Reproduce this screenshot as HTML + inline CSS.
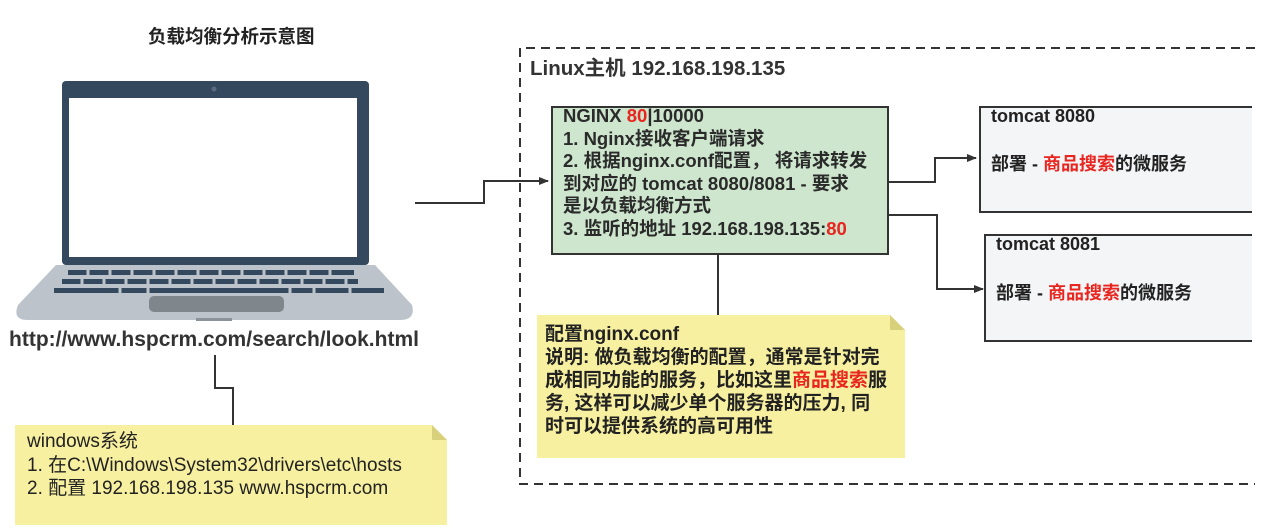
<!DOCTYPE html>
<html><head><meta charset="utf-8">
<style>
body{margin:0;width:1276px;height:532px;background:#fff;position:relative;overflow:hidden;font-family:"Liberation Sans","Noto Sans CJK SC",sans-serif;color:#222;}
.t{position:absolute;white-space:nowrap;font-weight:bold;}
.r{color:#e8261f;}
</style></head><body>
<svg width="1276" height="532" style="position:absolute;left:0;top:0">
<defs><marker id="a" markerWidth="10" markerHeight="8" refX="9" refY="4" orient="auto" markerUnits="userSpaceOnUse"><path d="M0,0 L10,4 L0,8 z" fill="#333"/></marker></defs>
<rect x="62" y="81" width="307" height="184" rx="4" fill="#34495e"/>
<rect x="69" y="98" width="288" height="159" fill="#fff"/>
<circle cx="214" cy="89" r="2.5" fill="#5a6b7c"/>
<path d="M56,265 L375,265 L412,305 Q416,320 400,320 L28,320 Q12,320 18,305 Z" fill="#bcc3cb"/>
<rect x="196" y="318" width="36" height="3" fill="#8a939c"/>
<g fill="#34495e">
<rect x="68" y="270" width="286" height="5"/>
<rect x="62" y="279" width="296" height="5"/>
<rect x="54" y="288" width="330" height="5"/>
</g>
<g stroke="#bcc3cb" stroke-width="3">
<path d="M88,268V276M110,268V276M132,268V276M154,268V276M176,268V276M198,268V276M220,268V276M242,268V276M264,268V276M286,268V276M308,268V276M330,268V276"/>
<path d="M82,278V285M104,278V285M126,278V285M148,278V285M170,278V285M192,278V285M214,278V285M236,278V285M258,278V285M280,278V285M302,278V285M324,278V285M346,278V285"/>
<path d="M120,287V294M148,287V294M290,287V294M314,287V294M350,287V294"/>
</g>
<rect x="149" y="296" width="135" height="16" rx="5" fill="#7f868c"/>
<g stroke="#333" stroke-width="2" fill="none">
<path d="M415,203 H484 V181 H548" marker-end="url(#a)"/>
<path d="M888,182 H935 V158 H976" marker-end="url(#a)"/>
<path d="M888,215 H937 V289 H983" marker-end="url(#a)"/>
<path d="M718,254 V315"/>
<path d="M215,355 V388 H233 V425"/>
</g>
<path d="M1255,48 H520 V484 H1255" fill="none" stroke="#333" stroke-width="2" stroke-dasharray="9,6"/>
<rect x="552" y="107" width="336" height="147" fill="#cde6cd" stroke="#333" stroke-width="2"/>
<path d="M1252,107 H980 V212 H1252" fill="#f4f5f7" stroke="#333" stroke-width="2"/>
<path d="M1252,235 H985 V341 H1252" fill="#f4f5f7" stroke="#333" stroke-width="2"/>
<path d="M537,315 H890 L905,330 V458 H537 Z" fill="#f7f0a0"/>
<path d="M890,315 L905,330 H890 Z" fill="#d8d07a"/>
<path d="M15,425 H432 L447,440 V525 H15 Z" fill="#f7f0a0"/>
<path d="M432,425 L447,440 H432 Z" fill="#d8d07a"/>
</svg>
<div class="t" style="left:148px;top:23px;font-size:18.5px;">负载均衡分析示意图</div>
<div class="t" style="left:9px;top:328px;font-size:21px;color:#333;">http://www.hspcrm.com/search/look.html</div>
<div class="t" style="left:530px;top:51px;font-size:20.5px;color:#333;">Linux主机 192.168.198.135</div>
<div class="t" style="left:563px;top:105px;font-size:18.5px;line-height:22.5px;color:#2a2a2a;">NGINX <span class="r">80</span>|10000<br>1. Nginx接收客户端请求<br>2. 根据nginx.conf配置， 将请求转发<br>到对应的 tomcat 8080/8081 - 要求<br>是以负载均衡方式<br>3. 监听的地址 192.168.198.135:<span class="r">80</span></div>
<div class="t" style="left:991px;top:106px;font-size:18px;">tomcat 8080</div>
<div class="t" style="left:991px;top:150px;font-size:18px;">部署 - <span class="r">商品搜索</span>的微服务</div>
<div class="t" style="left:996px;top:234px;font-size:18px;">tomcat 8081</div>
<div class="t" style="left:996px;top:279px;font-size:18px;">部署 - <span class="r">商品搜索</span>的微服务</div>
<div class="t" style="left:545px;top:323px;font-size:19px;line-height:23px;">配置nginx.conf<br>说明: 做负载均衡的配置，通常是针对完<br>成相同功能的服务，比如这里<span class="r">商品搜索</span>服<br>务, 这样可以减少单个服务器的压力, 同<br>时可以提供系统的高可用性</div>
<div class="t" style="left:27px;top:430px;font-size:19px;line-height:23.5px;font-weight:normal;">windows系统<br>1. 在C:\Windows\System32\drivers\etc\hosts<br>2. 配置 192.168.198.135 www.hspcrm.com</div>
</body></html>
